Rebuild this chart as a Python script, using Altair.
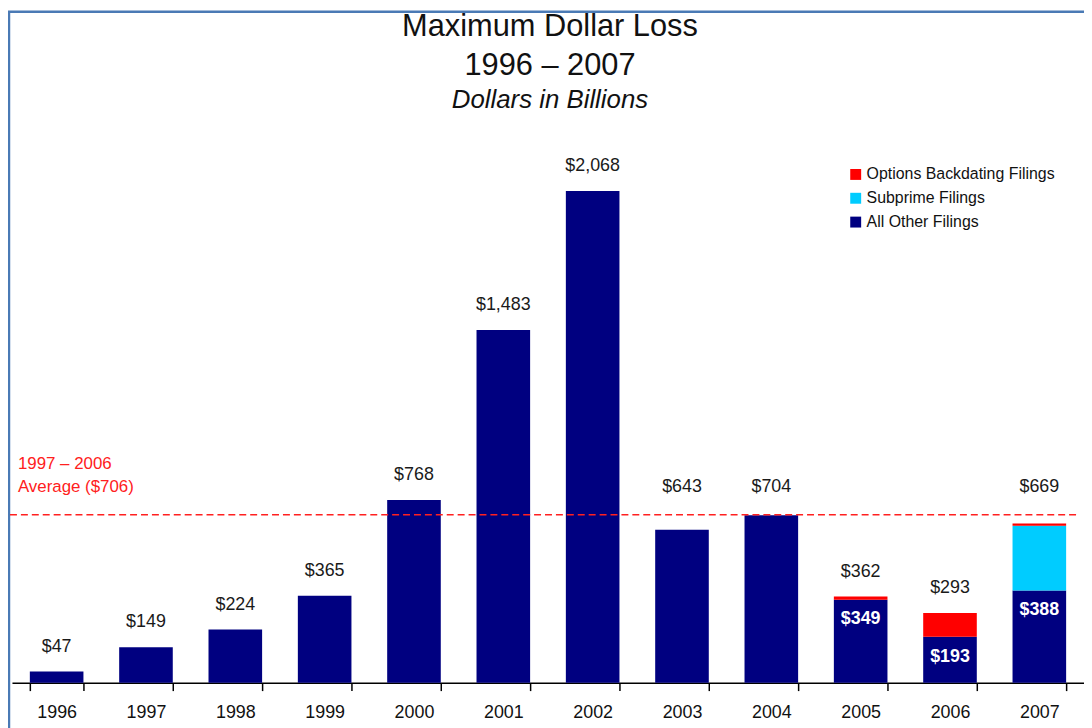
import altair as alt
import pandas as pd

# ---- data ----
years = ["1996", "1997", "1998", "1999", "2000", "2001", "2002", "2003", "2004", "2005", "2006", "2007"]
all_other = [47, 149, 224, 365, 768, 1483, 2068, 643, 704, 349, 193, 388]
subprime = [0, 0, 0, 0, 0, 0, 0, 0, 0, 0, 0, 272]
backdating = [0, 0, 0, 0, 0, 0, 0, 0, 0, 13, 100, 9]
series_names = ["Options Backdating Filings", "Subprime Filings", "All Other Filings"]
series_colors = ["#ff0000", "#00ccff", "#000080"]
average_value = 706
average_label = ["1997 – 2006", "Average ($706)"]
title_lines = ["Maximum Dollar Loss", "1996 – 2007"]
subtitle_text = "Dollars in Billions"

FONT = "Liberation Sans"

rows = []
for i, yr in enumerate(years):
    for name, vals, order in [("All Other Filings", all_other, 0),
                              ("Subprime Filings", subprime, 1),
                              ("Options Backdating Filings", backdating, 2)]:
        if vals[i] > 0:
            rows.append({"year": yr, "series": name, "value": vals[i], "order": order})
long_df = pd.DataFrame(rows)

totals = [a + b + c for a, b, c in zip(all_other, subprime, backdating)]
wide_df = pd.DataFrame({"year": years, "other": all_other, "total": totals})

x_enc = alt.X("year:N", sort=years,
              scale=alt.Scale(paddingInner=0.4, paddingOuter=0.2),
              axis=alt.Axis(title=None, labelAngle=0, tickBand="extent",
                            domainColor="#000000", domainWidth=1.5,
                            tickColor="#000000", tickWidth=1.5, tickSize=8,
                            labelFontSize=18, labelColor="#111111", labelFont=FONT,
                            labelPadding=13, grid=False))
y_scale = alt.Scale(domain=[0, 2300])

bars = alt.Chart(long_df).mark_bar().encode(
    x=x_enc,
    y=alt.Y("value:Q", stack="zero", scale=y_scale, axis=None),
    color=alt.Color("series:N",
                    scale=alt.Scale(domain=series_names, range=series_colors),
                    legend=alt.Legend(title=None, orient="none", legendX=842, legendY=31,
                                      symbolType="square", symbolSize=121, symbolStrokeWidth=0,
                                      labelFontSize=16, labelFont=FONT, labelColor="#111111",
                                      labelOffset=3, rowPadding=8, padding=0, labelLimit=400)),
    order=alt.Order("order:Q", sort="ascending"),
)

total_labels = alt.Chart(wide_df).transform_calculate(
    label_base="datum.total > 550 && datum.total < 720 ? 720 : datum.total"
).mark_text(dy=-25, baseline="middle", fontSize=18, font=FONT, color="#1a1a1a").encode(
    x=alt.X("year:N", sort=years),
    y=alt.Y("label_base:Q", scale=y_scale),
    text=alt.Text("total:Q", format="$,.0f"),
)

inner_labels = alt.Chart(wide_df).transform_filter(
    "datum.total > datum.other"
).mark_text(dy=20, baseline="middle", fontSize=18, font=FONT, fontWeight="bold", color="#ffffff").encode(
    x=alt.X("year:N", sort=years),
    y=alt.Y("other:Q", scale=y_scale),
    text=alt.Text("other:Q", format="$,.0f"),
)

avg_data = alt.Data(values=[{"v": average_value}])
avg_rule = alt.Chart(avg_data).mark_rule(color="#ff2020", strokeDash=[7, 4], strokeWidth=1.6).encode(
    y=alt.Y("v:Q", scale=y_scale),
    x=alt.value(-2), x2=alt.value(1073),
)
avg_text = alt.Chart(avg_data).mark_text(
    text=average_label, align="left", baseline="bottom", dy=-42, lineHeight=23,
    fontSize=17, font=FONT, color="#ff2020"
).encode(
    y=alt.Y("v:Q", scale=y_scale),
    x=alt.value(6),
)

one = alt.Data(values=[{"k": 1}])
frame = alt.Chart(one).mark_rect(fillOpacity=0, stroke="#4a7ab5", strokeWidth=2.5).encode(
    x=alt.value(-3), x2=alt.value(1300), y=alt.value(-125), y2=alt.value(800)
)
t1 = alt.Chart(one).mark_text(text=title_lines[0], fontSize=31, font=FONT, color="#111111",
                              align="center", baseline="middle").encode(
    x=alt.value(542), y=alt.value(-109))
t2 = alt.Chart(one).mark_text(text=title_lines[1], fontSize=31, font=FONT, color="#111111",
                              align="center", baseline="middle").encode(
    x=alt.value(542), y=alt.value(-70))
t3 = alt.Chart(one).mark_text(text=subtitle_text, fontSize=26, font=FONT, fontStyle="italic",
                              color="#111111", align="center", baseline="middle").encode(
    x=alt.value(542), y=alt.value(-36))

chart = alt.layer(frame, bars, total_labels, inner_labels, avg_rule, avg_text, t1, t2, t3).properties(
    width=1080, height=551,
    padding={"left": 4, "top": 126, "right": 0, "bottom": 43},
    autosize=alt.AutoSizeParams(type="none"),
    background="#ffffff",
).configure_view(stroke=None)

chart.save("out.html", embed_options={"renderer": "svg", "actions": False})
